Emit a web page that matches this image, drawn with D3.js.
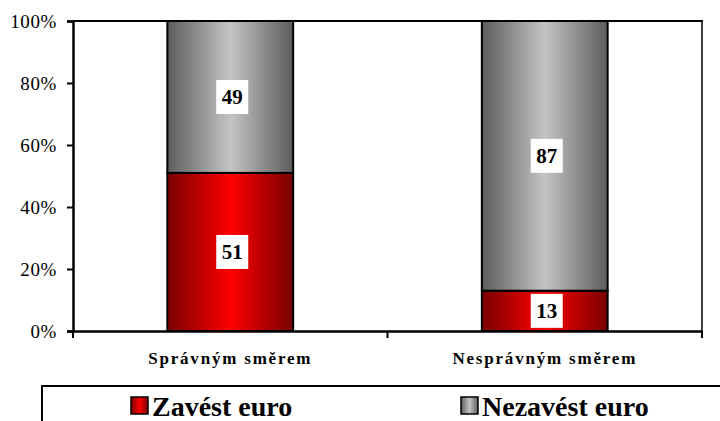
<!DOCTYPE html>
<html>
<head>
<meta charset="utf-8">
<script src="https://cdn.jsdelivr.net/npm/d3@7"></script>
</head>
<body style="margin:0;background:#fff">
<svg id="chart" width="720" height="421" style="display:block"></svg>
<script>
const categories = ["Správným směrem", "Nesprávným směrem"];
const seriesNames = ["Zavést euro", "Nezavést euro"];
const zavest = [51, 13];
const nezavest = [49, 87];
const yTicks = [0, 20, 40, 60, 80, 100];

const FONT = "Liberation Serif";
const svg = d3.select("#chart");
const plot = { left: 73, right: 702, top: 21, bottom: 331 };

const defs = svg.append("defs");
function hGrad(id, edge, mid) {
  const g = defs.append("linearGradient").attr("id", id)
    .attr("x1", "0%").attr("x2", "100%").attr("y1", "0%").attr("y2", "0%");
  g.append("stop").attr("offset", "0%").attr("stop-color", edge);
  g.append("stop").attr("offset", "50%").attr("stop-color", mid);
  g.append("stop").attr("offset", "100%").attr("stop-color", edge);
}
hGrad("gRed", "#780000", "#ff0000");
hGrad("gGray", "#5c5c5c", "#c4c4c4");
const fills = ["url(#gRed)", "url(#gGray)"];

const data = categories.map((c, i) => ({ cat: c, "Zavést euro": zavest[i], "Nezavést euro": nezavest[i] }));
const layers = d3.stack().keys(seriesNames)(data);

const x = d3.scaleBand().domain(categories).range([plot.left, plot.right]).paddingInner(0).paddingOuter(0);
const y = d3.scaleLinear().domain([0, 100]).range([plot.bottom, plot.top]);
const barW = x.bandwidth() * 0.4;

// plot frame (top & right)
svg.append("line").attr("x1", plot.left).attr("x2", plot.right + 1).attr("y1", plot.top).attr("y2", plot.top)
  .attr("stroke", "#000").attr("stroke-width", 2);
svg.append("line").attr("x1", plot.right).attr("x2", plot.right).attr("y1", plot.top).attr("y2", plot.bottom)
  .attr("stroke", "#000").attr("stroke-width", 1.5);

// bars
layers.forEach((layer, li) => {
  svg.append("g").selectAll("rect").data(layer).join("rect")
    .attr("x", d => x(d.data.cat) + (x.bandwidth() - barW) / 2)
    .attr("y", d => y(d[1]))
    .attr("width", barW)
    .attr("height", d => y(d[0]) - y(d[1]))
    .attr("fill", fills[li])
    .attr("stroke", "#000")
    .attr("stroke-width", 2);
});

// value labels
layers.forEach((layer) => {
  const g = svg.append("g").selectAll("g").data(layer).join("g")
    .attr("transform", d => `translate(${x(d.data.cat) + x.bandwidth() / 2 + 2},${(y(d[0]) + y(d[1])) / 2})`);
  g.append("rect").attr("x", -16).attr("y", -17).attr("width", 32).attr("height", 34).attr("fill", "#fff");
  g.append("text").attr("text-anchor", "middle").attr("dy", "0.35em")
    .attr("font-size", 21).attr("font-weight", "bold").attr("fill", "#000")
    .style("font-family", FONT)
    .text(d => d[1] - d[0]);
});

// y axis
const yAxis = d3.axisLeft(y).tickValues(yTicks).tickFormat(d => d + "%").tickSize(6).tickPadding(10);
const gy = svg.append("g").attr("transform", `translate(${plot.left},0)`).call(yAxis);
gy.attr("font-family", null);
gy.select(".domain").attr("stroke", "#000").attr("stroke-width", 2.5);
gy.selectAll(".tick line").attr("stroke", "#000").attr("stroke-width", 2);
gy.selectAll(".tick text").attr("font-size", 19).attr("fill", "#000")
  .attr("letter-spacing", "0.6px").style("font-family", FONT);

// x axis
const xAxis = d3.axisBottom(x).tickSize(0).tickPadding(21);
const gx = svg.append("g").attr("transform", `translate(0,${plot.bottom})`).call(xAxis);
gx.attr("font-family", null);
gx.select(".domain").attr("stroke", "#000").attr("stroke-width", 2.5);
gx.selectAll(".tick text").attr("font-size", 17).attr("font-weight", "bold").attr("fill", "#000")
  .attr("letter-spacing", "1.8px").style("font-family", FONT);
// category separator ticks
const sepX = [plot.left, plot.left + x.bandwidth(), plot.right];
svg.append("g").selectAll("line").data(sepX).join("line")
  .attr("x1", d => d).attr("x2", d => d).attr("y1", plot.bottom).attr("y2", plot.bottom + 7)
  .attr("stroke", "#000").attr("stroke-width", 2);

// legend
const lg = svg.append("g");
lg.append("rect").attr("x", 42).attr("y", 386).attr("width", 700).attr("height", 60)
  .attr("fill", "#fff").attr("stroke", "#000").attr("stroke-width", 2);
const legX = [131, 461];
seriesNames.forEach((name, i) => {
  lg.append("rect").attr("x", legX[i]).attr("y", 397).attr("width", 17).attr("height", 17)
    .attr("fill", fills[i]).attr("stroke", "#000").attr("stroke-width", 1.5);
  lg.append("text").attr("x", legX[i] + 21).attr("y", 416)
    .attr("font-size", 28).attr("font-weight", "bold").attr("fill", "#000")
    .style("font-family", FONT)
    .text(name);
});
</script>
</body>
</html>
